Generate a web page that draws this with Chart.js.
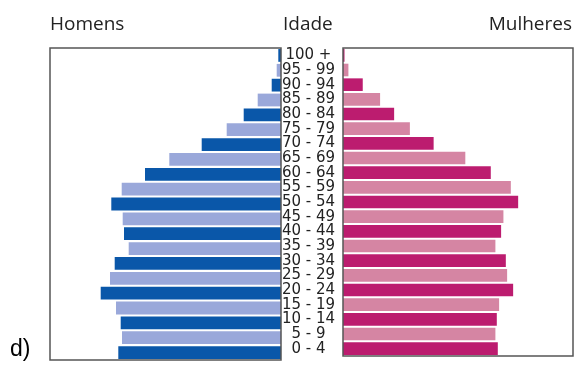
<!DOCTYPE html>
<html>
<head>
<meta charset="utf-8">
<script src="https://cdn.jsdelivr.net/npm/chart.js@4"></script>
<style>
  body { margin: 0; background: #fff; }
  #wrap { position: relative; width: 576px; height: 365px; overflow: hidden; }
  canvas { position: absolute; top: 0; }
  .t { position: absolute; font-family: "Open Sans", sans-serif; font-size: 19px; color: #222; line-height: 1; white-space: nowrap; }
</style>
</head>
<body>
<div id="wrap">
  <canvas id="men" width="282" height="365" style="left:0"></canvas>
  <canvas id="women" width="294" height="365" style="left:282px"></canvas>
  <div class="t" style="left:50px; top:14px;">Homens</div>
  <div class="t" style="left:283px; top:14px;">Idade</div>
  <div class="t" style="right:4px; top:14px;">Mulheres</div>
  <div class="t" style="left:10px; top:337px; font-family:'Liberation Sans', Arial, sans-serif; font-size:23px; color:#000;">d)</div>
</div>
<script>
// age groups, bottom to top
const ages = ['0 - 4', '5 - 9', '10 - 14', '15 - 19', '20 - 24', '25 - 29', '30 - 34', '35 - 39',
  '40 - 44', '45 - 49', '50 - 54', '55 - 59', '60 - 64', '65 - 69', '70 - 74', '75 - 79',
  '80 - 84', '85 - 89', '90 - 94', '95 - 99', '100 +'];
const homens = [162.7, 159, 160.3, 165, 180.3, 171, 166.3, 152.3, 157, 158.3, 169.7,
  159.3, 136, 111.7, 79.3, 54.3, 37.3, 23.3, 9.3, 4.3, 2.7];
const mulheres = [154.4, 152, 153.4, 155.7, 169.7, 163.7, 162.4, 152, 157.7, 160, 174.7,
  167.4, 147.4, 122, 90.4, 66.7, 51, 37, 19.7, 5.4, 1.5];

const frame = {
  id: 'frame',
  afterDraw(chart) {
    const a = chart.chartArea, ctx = chart.ctx;
    ctx.save();
    ctx.strokeStyle = '#555';
    ctx.lineWidth = 1.5;
    ctx.strokeRect(a.left, a.top, a.right - a.left, a.bottom - a.top);
    ctx.restore();
  }
};

function alt(dark, light) {
  return ages.map((_, i) => i % 2 === 0 ? dark : light);
}

new Chart(document.getElementById('men'), {
  type: 'bar',
  data: {
    labels: ages,
    datasets: [{ data: homens, backgroundColor: alt('#0a57a9', '#9aa8da'),
      barPercentage: 0.86, categoryPercentage: 1 }]
  },
  options: {
    indexAxis: 'y', responsive: false, animation: false, devicePixelRatio: 1,
    layout: { padding: { left: 50, right: 1, top: 48, bottom: 5 } },
    plugins: { legend: { display: false }, tooltip: { enabled: false } },
    scales: {
      x: { display: false, reverse: true, min: 0, max: 231 },
      y: { display: false, reverse: true }
    }
  },
  plugins: [frame]
});

new Chart(document.getElementById('women'), {
  type: 'bar',
  data: {
    labels: ages,
    datasets: [{ data: mulheres, backgroundColor: alt('#bc1c6f', '#d585a3'),
      barPercentage: 0.86, categoryPercentage: 1 }]
  },
  options: {
    indexAxis: 'y', responsive: false, animation: false, devicePixelRatio: 1,
    layout: { padding: { left: 0, right: 3, top: 48, bottom: 5 } },
    plugins: { legend: { display: false }, tooltip: { enabled: false } },
    scales: {
      x: { display: false, min: 0, max: 229.4 },
      y: {
        reverse: true,
        afterFit(s) { s.width = 61; },
        grid: { display: false },
        border: { display: false },
        ticks: {
          autoSkip: false, padding: 0, crossAlign: 'center', color: '#222',
          font: { family: 'DejaVu Sans', size: 15 }
        }
      }
    }
  },
  plugins: [frame]
});
</script>
</body>
</html>
